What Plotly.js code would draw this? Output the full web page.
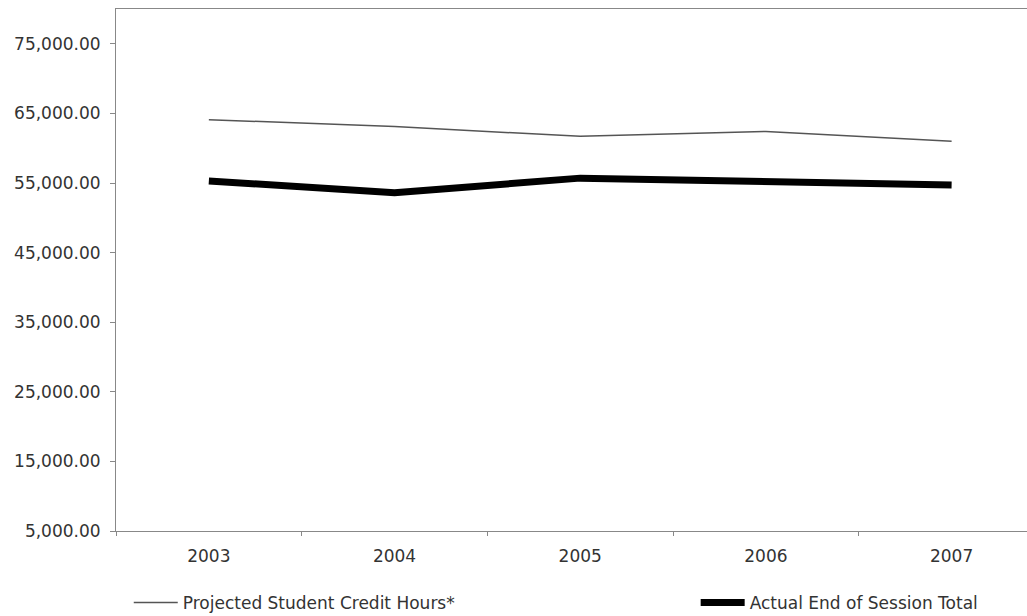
<!DOCTYPE html>
<html>
<head>
<meta charset="utf-8">
<script src="https://cdn.plot.ly/plotly-3.0.1.min.js"></script>
<style>html,body{margin:0;padding:0;background:#fff;}#chart{width:1027px;height:616px;}</style>
</head>
<body>
<div id="chart"></div>
<script>
const years = ["2003", "2004", "2005", "2006", "2007"];
const projectedHours = [64100, 63100, 61700, 62400, 61000];
const actualTotals = [55300, 53600, 55700, 55300, 54700];
const seriesNames = ["Projected Student Credit Hours*", "Actual End of Session Total"];

const traces = [
  {
    x: years, y: projectedHours, name: seriesNames[0], type: "scatter", mode: "lines",
    line: {color: "#555555", width: 1.5}, legend: "legend", hoverinfo: "skip"
  },
  {
    x: years, y: actualTotals, name: seriesNames[1], type: "scatter", mode: "lines",
    line: {color: "#000000", width: 7}, legend: "legend2", hoverinfo: "skip"
  }
];

const fontFam = "DejaVu Sans, Liberation Sans, Arial, sans-serif";
const layout = {
  width: 1027, height: 616,
  margin: {l: 116, r: 0, t: 9, b: 85},
  paper_bgcolor: "#ffffff", plot_bgcolor: "#ffffff",
  font: {family: fontFam, color: "#333333", size: 17},
  showlegend: true,
  xaxis: {
    type: "category", range: [-0.5, 4.406], fixedrange: true,
    showline: true, linecolor: "#888888", linewidth: 1, mirror: true,
    ticks: "outside", ticklen: 4, tickcolor: "#888888", tickson: "boundaries",
    showgrid: false, zeroline: false,
    tickfont: {family: fontFam, size: 17, color: "#333333"},
    ticklabelstandoff: 10
  },
  yaxis: {
    range: [5000, 80000], tick0: 5000, dtick: 10000, tickformat: ",.2f",
    showline: true, linecolor: "#888888", linewidth: 1,
    ticks: "outside", ticklen: 5, tickcolor: "#888888",
    showgrid: false, zeroline: false, fixedrange: true,
    tickfont: {family: fontFam, size: 17, color: "#333333"},
    ticklabelstandoff: 6
  },
  legend: {
    orientation: "h", x: 0.014, xanchor: "left", yref: "container", y: 0.021, yanchor: "middle",
    itemwidth: 44, font: {family: fontFam, size: 17, color: "#333333"}, bgcolor: "rgba(0,0,0,0)"
  },
  legend2: {
    orientation: "h", x: 0.6363, xanchor: "left", yref: "container", y: 0.021, yanchor: "middle",
    itemwidth: 44, font: {family: fontFam, size: 17, color: "#333333"}, bgcolor: "rgba(0,0,0,0)"
  }
};

Plotly.newPlot("chart", traces, layout, {displayModeBar: false, staticPlot: true});
</script>
</body>
</html>
